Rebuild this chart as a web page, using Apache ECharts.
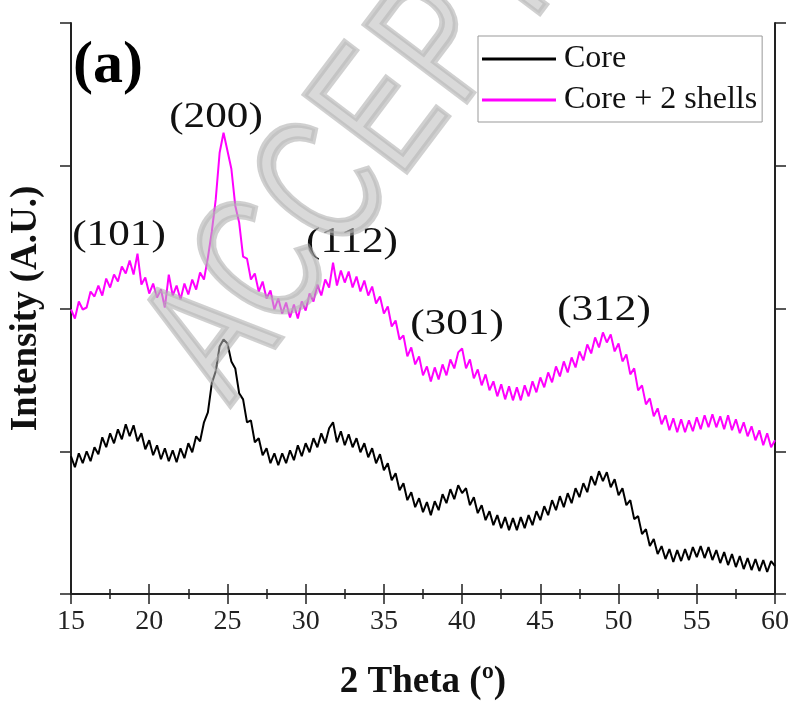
<!DOCTYPE html>
<html>
<head>
<meta charset="utf-8">
<script src="https://cdn.jsdelivr.net/npm/echarts@6/dist/echarts.min.js"></script>
<style>
  html, body { margin: 0; padding: 0; background: #fff; }
  #xrd-chart { width: 794px; height: 706px; }
</style>
</head>
<body>
<div id="xrd-chart"></div>
<script>
// 2 theta grid: 15 .. 60 deg, every 0.25 deg (one row = one degree)
var angleStart = 15;
var angleStep = 0.25;

var coreCounts = [
    138, 127, 141, 131,
    143, 133, 147, 140,
    157, 147, 161, 151,
    165, 155, 170, 158,
    169, 153, 161, 145,
    154, 139, 149, 135,
    146, 133, 144, 132,
    146, 136, 151, 142,
    158, 153, 172, 182,
    211, 223, 248, 255,
    251, 233, 226, 201,
    195, 172, 174, 152,
    156, 139, 146, 131,
    141, 129, 141, 131,
    144, 134, 149, 138,
    151, 142, 156, 147,
    161, 151, 166, 172,
    152, 163, 149, 160,
    147, 156, 142, 151,
    137, 146, 131, 140,
    124, 131, 114, 121,
    104, 111, 94, 102,
    87, 96, 82, 92,
    79, 93, 84, 100,
    91, 105, 95, 109,
    101, 106, 89, 97,
    81, 89, 74, 83,
    69, 79, 66, 77,
    64, 76, 64, 77,
    66, 79, 69, 83,
    74, 88, 79, 94,
    84, 98, 87, 101,
    91, 106, 97, 111,
    102, 118, 109, 123,
    113, 122, 107, 115,
    99, 106, 89, 94,
    75, 78, 60, 65,
    48, 55, 40, 48,
    35, 45, 32, 44,
    33, 45, 34, 47,
    37, 48, 36, 47,
    34, 44, 31, 42,
    29, 40, 27, 38,
    25, 36, 24, 35,
    23, 34, 22, 33,
    28
];

var shellCounts = [
    285, 276, 293, 285,
    287, 303, 298, 309,
    299, 316, 307, 320,
    313, 328, 321, 334,
    320, 341, 310, 317,
    301, 311, 297, 305,
    287, 320, 299, 309,
    295, 311, 300, 315,
    305, 322, 315, 337,
    363, 395, 442, 462,
    444, 426, 389, 372,
    338, 336, 315, 321,
    303, 313, 296, 304,
    285, 296, 281, 292,
    277, 290, 276, 293,
    284, 301, 293, 310,
    299, 315, 307, 332,
    309, 324, 312, 323,
    307, 318, 303, 314,
    299, 308, 291, 298,
    281, 288, 268, 274,
    255, 259, 238, 247,
    230, 238, 219, 228,
    213, 227, 215, 230,
    219, 235, 226, 242,
    246, 226, 235, 216,
    225, 209, 220, 204,
    213, 198, 210, 195,
    208, 194, 207, 194,
    209, 198, 213, 202,
    217, 207, 222, 212,
    228, 218, 233, 222,
    237, 227, 243, 234,
    250, 241, 257, 247,
    262, 252, 260, 243,
    251, 233, 240, 220,
    226, 204, 209, 190,
    196, 178, 186, 170,
    179, 164, 176, 162,
    175, 162, 174, 163,
    177, 165, 179, 167,
    180, 167, 178, 165,
    179, 164, 175, 161,
    172, 158, 168, 154,
    164, 149, 161, 147,
    154
];

var seriesNames = ['Core', 'Core + 2 shells'];
var peakLabels = ['(101)', '(200)', '(112)', '(301)', '(312)'];
var stampLetters = ['A', 'C', 'C', 'E', 'P', 'T'];

var chart = echarts.init(document.getElementById('xrd-chart'));

function toPairs(values) {
    return values.map(function (v, i) {
        return [angleStart + i * angleStep, v];
    });
}

var serif = '"Liberation Serif", "Times New Roman", serif';
var axisColor = '#222';

// label positions (pixels) for the peak indices
var peakPos = [[119, 236], [216, 118], [352, 243], [457, 325], [604, 311]];
// centres of the watermark letters
var stampPos = [[215, 341], [268, 268], [328, 190], [385, 115], [445, 45], [502, -22]];

var graphics = peakLabels.map(function (t, i) {
    return {
        type: 'text',
        x: peakPos[i][0],
        y: peakPos[i][1],
        scaleX: 1.2,
        z: 50,
        style: {
            text: t,
            font: '36px ' + serif,
            fill: '#111',
            textAlign: 'center',
            textVerticalAlign: 'middle',
            align: 'center',
            verticalAlign: 'middle'
        }
    };
});
graphics.push({
    type: 'text',
    x: 108,
    y: 66,
    z: 50,
    style: {
        text: '(a)',
        font: 'bold 60px ' + serif,
        fill: '#000',
        textAlign: 'center',
        textVerticalAlign: 'middle',
        align: 'center',
        verticalAlign: 'middle'
    }
});
stampLetters.forEach(function (ch, i) {
    graphics.push({
        type: 'text',
        x: stampPos[i][0],
        y: stampPos[i][1],
        rotation: 53 * Math.PI / 180,
        scaleX: 0.7,
        z: 100,
        style: {
            text: ch,
            font: '185px "Liberation Sans", Arial, sans-serif',
            fill: 'rgba(185,185,185,0.55)',
            stroke: 'rgba(170,170,170,0.55)',
            lineWidth: 6,
            textAlign: 'center',
            textVerticalAlign: 'middle',
            align: 'center',
            verticalAlign: 'middle'
        }
    });
});

var xBase = {
    type: 'value',
    min: 15,
    max: 60,
    interval: 5,
    splitLine: { show: false },
    axisLine: { show: true, lineStyle: { color: axisColor, width: 2 } },
    axisTick: { show: true, inside: false, length: 10, lineStyle: { color: axisColor, width: 1.5 } },
    minorTick: { show: true, splitNumber: 2, length: 5, lineStyle: { color: axisColor, width: 1.5 } }
};
var yBase = {
    type: 'value',
    min: 0,
    max: 572,
    interval: 143,
    splitLine: { show: false },
    axisLine: { show: true, onZero: false, lineStyle: { color: axisColor, width: 2 } },
    axisTick: { show: true, inside: false, length: 11, lineStyle: { color: axisColor, width: 1.5 } },
    axisLabel: { show: false }
};

var option = {
    animation: false,
    backgroundColor: '#fff',
    grid: { left: 65, right: 19, top: 23, bottom: 111 },
    legend: {
        data: seriesNames,
        orient: 'vertical',
        left: 478,
        top: 36,
        icon: 'rect',
        itemWidth: 74,
        itemHeight: 3,
        itemGap: 9,
        padding: [7, 5, 6, 4],
        borderColor: '#999',
        borderWidth: 1,
        textStyle: { fontFamily: serif, fontSize: 32, color: '#111', padding: [0, 0, 0, 3] }
    },
    xAxis: [
        Object.assign({}, xBase, {
            position: 'bottom',
            name: '2 Theta (º)',
            nameLocation: 'middle',
            nameGap: 70,
            nameTextStyle: { fontFamily: serif, fontSize: 37, fontWeight: 'bold', color: '#111' },
            axisLabel: { show: true, fontFamily: serif, fontSize: 28, color: '#222', margin: 14 }
        }),
        Object.assign({}, xBase, {
            position: 'top',
            axisLabel: { show: false }
        })
    ],
    yAxis: [
        Object.assign({}, yBase, {
            position: 'left',
            name: 'Intensity (A.U.)',
            nameLocation: 'middle',
            nameGap: 26,
            nameTextStyle: { fontFamily: serif, fontSize: 37, fontWeight: 'bold', color: '#111' }
        }),
        Object.assign({}, yBase, { position: 'right' })
    ],
    graphic: graphics,
    series: [
        {
            name: seriesNames[0],
            type: 'line',
            xAxisIndex: 0,
            yAxisIndex: 0,
            showSymbol: false,
            color: '#000000',
            lineStyle: { width: 2, color: '#000000' },
            data: toPairs(coreCounts)
        },
        {
            name: seriesNames[1],
            type: 'line',
            xAxisIndex: 0,
            yAxisIndex: 0,
            showSymbol: false,
            color: '#ff00ff',
            lineStyle: { width: 2, color: '#ff00ff' },
            data: toPairs(shellCounts)
        }
    ]
};

chart.setOption(option);
</script>
</body>
</html>
